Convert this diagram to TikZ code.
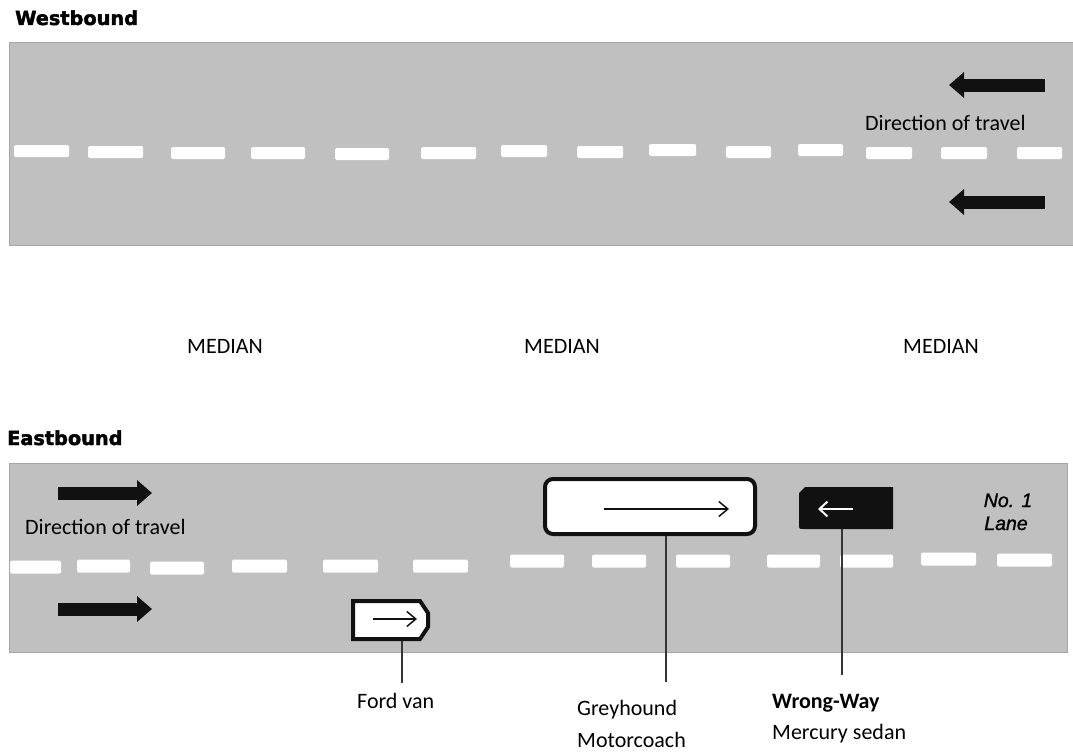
\documentclass[tikz,border=0pt]{standalone}
\usepackage{fontspec}
\setmainfont{Carlito}
\newfontfamily\headfont{DejaVu Sans}[BoldFeatures={FakeBold=2.2}]
\newfontfamily\lanefont{Liberation Sans}[ItalicFeatures={FakeBold=1.2}]
\usetikzlibrary{arrows.meta}
\definecolor{roadgray}{HTML}{C0C0C0}
\definecolor{edgegray}{HTML}{A6A6A6}
\definecolor{inkblack}{HTML}{111111}
\tikzset{
  road/.style={fill=roadgray, draw=edgegray, line width=1pt},
  lanedash/.style={fill=white, rounded corners=1.5pt},
  bigarrow/.style={draw=inkblack, line width=13pt, -{Triangle[length=15pt,width=25pt]}},
  vehicle/.style={draw=inkblack, fill=white, line width=4pt},
  innerarrow/.style={draw=inkblack, line width=1.5pt, -{Straight Barb[length=9pt,width=15pt]}},
  connector/.style={draw=inkblack!85, line width=1.6pt},
  txt/.style={inner sep=0pt, anchor=base west, font=\fontsize{22}{26}\selectfont},
  btxt/.style={txt, font=\fontsize{22}{26}\selectfont\bfseries},
  head/.style={inner sep=0pt, anchor=base west, font=\headfont\fontsize{19.3}{23}\selectfont\bfseries},
  lanetxt/.style={inner sep=0pt, anchor=base, font=\lanefont\fontsize{19.5}{23}\selectfont\itshape}
}
\begin{document}
\begin{tikzpicture}[x=1pt,y=-1pt]
\useasboundingbox (0,0) rectangle (1073,752);

% Titles
\node[head] (wbtitle) at (15,25) {Westbound};
\node[head] (ebtitle) at (7,445) {Eastbound};

% Roads
\path[road] (9,43) rectangle (1073,245);
\path[road] (9,463) rectangle (1067,652);

% Westbound lane dashes
\foreach \a/\b/\c in {14/69/151, 88/143/152, 171/225/153, 251/305/153, 335/389/154,
  421/476/153, 501/547/151, 577/623/152, 649/696/150, 726/771/152, 798/843/150,
  866/912/153, 941/987/153, 1017/1062/153}
  \path[lanedash] (\a,\c-6) rectangle (\b,\c+6);

% Eastbound lane dashes
\foreach \a/\b/\c in {10/61/567, 77/130/566, 150/204/568, 232/287/566, 323/378/566,
  413/468/566, 510/564/561, 592/646/561, 676/730/561, 767/820/561, 840/893/561,
  921/976/559, 997/1052/560}
  \path[lanedash] (\a,\c-6.5) rectangle (\b,\c+6.5);

% Direction arrows
\draw[bigarrow] (1045,85) -- (949,85);
\draw[bigarrow] (1045,202) -- (949,202);
\draw[bigarrow] (58,493) -- (152,493);
\draw[bigarrow] (58,609) -- (152,609);

% Direction labels
\node[txt] (wbdir) at (865,130) {Direction of travel};
\node[txt] (ebdir) at (25,534) {Direction of travel};

% Median labels
\node[txt, anchor=base] (med1) at (225,353) {MEDIAN};
\node[txt, anchor=base] (med2) at (562,353) {MEDIAN};
\node[txt, anchor=base] (med3) at (941,353) {MEDIAN};

% Lane label
\node[lanetxt] (lane1) at (1008,507) {No. 1};
\node[lanetxt] (lane2) at (1006,530) {Lane};

% Ford van
\filldraw[vehicle, line join=miter] (353,601) -- (420,601) -- (428,613) -- (428,627) -- (420,639) -- (353,639) -- cycle;
\coordinate (vanbot) at (402,641);
\draw[innerarrow] (373,619) -- (417,619);

% Greyhound motorcoach
\node[vehicle, rounded corners=8pt, minimum width=210pt, minimum height=55pt, inner sep=0pt] (coach) at (650,506.5) {};
\draw[innerarrow] (604,509) -- (729,509);

% Wrong-way Mercury sedan
\fill[inkblack] (805,487) -- (893,487) -- (893,529) -- (804,529) .. controls (799,529) .. (799,524) -- (799,493) -- cycle;
\coordinate (sedanbot) at (842,529);
\draw[draw=white, line width=2pt, -{Straight Barb[length=8pt,width=15pt]}] (853,509) -- (818,509);

% Labels
\node[txt] (vanlbl) at (357,708) {Ford van};
\node[txt] (coachlbl1) at (577,715) {Greyhound};
\node[txt] (coachlbl2) at (577,747) {Motorcoach};
\node[btxt] (sedanlbl1) at (772,708) {Wrong-Way};
\node[txt] (sedanlbl2) at (772,739) {Mercury sedan};

% Connectors
\coordinate (vanend) at (402,683);
\coordinate (coachend) at (666,682);
\coordinate (sedanend) at (842,675);
\draw[connector] (vanbot) -- (vanend);
\draw[connector] (coach.south -| coachend) -- (coachend);
\draw[connector] (sedanbot) -- (sedanend);
\end{tikzpicture}
\end{document}
